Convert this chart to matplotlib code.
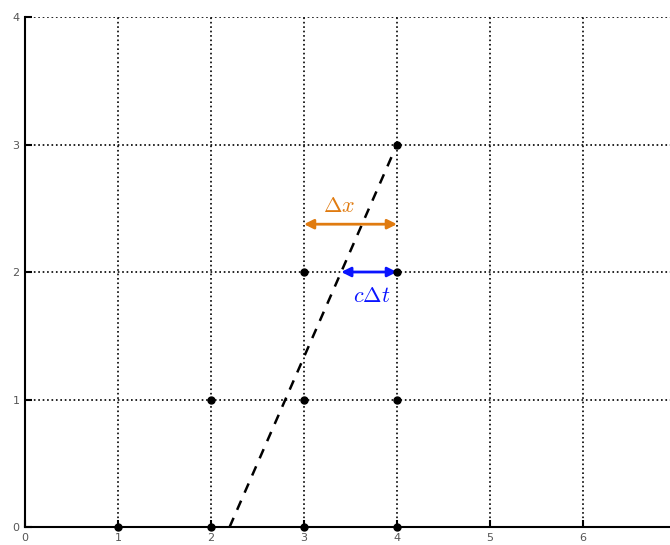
import matplotlib.pyplot as plt

plt.rcParams['mathtext.fontset'] = 'cm'

# puntos de la malla
pts_x = [1, 2, 3, 4, 2, 3, 4, 3, 4, 4]
pts_y = [0, 0, 0, 0, 1, 1, 1, 2, 2, 3]

# caracteristica (linea discontinua)
car_x = [2.2, 4]
car_y = [0, 3]

# flechas
dx_x = [3, 4]
dx_y = 2.375
cdt_x = [3.4, 4]
cdt_y = 2

naranja = '#e07b10'
azul = '#0a14ff'

fig = plt.figure(figsize=(6.7, 5.45), dpi=100)
ax = fig.add_axes([0.0373, 0.033, 0.9716, 0.9358])

ax.plot(car_x, car_y, 'k--', lw=1.8, dashes=(4, 3.5))
ax.plot(pts_x, pts_y, 'ko', ms=5, clip_on=False, zorder=5)

ax.annotate('', xy=(dx_x[1], dx_y), xytext=(dx_x[0], dx_y),
            arrowprops=dict(arrowstyle='<|-|>', color=naranja, lw=2, mutation_scale=14,
                            shrinkA=0, shrinkB=0))
ax.text(3.38, 2.52, r'$\Delta x$', color=naranja, fontsize=16, ha='center', va='center')

ax.annotate('', xy=(cdt_x[1], cdt_y), xytext=(cdt_x[0], cdt_y),
            arrowprops=dict(arrowstyle='<|-|>', color=azul, lw=2, mutation_scale=14,
                            shrinkA=0, shrinkB=0))
ax.text(3.73, 1.81, r'$c\Delta t$', color=azul, fontsize=16, ha='center', va='center')

ax.set_xlim(0, 7)
ax.set_ylim(0, 4)
ax.set_xticks(range(0, 8))
ax.set_xticklabels(['0', '1', '2', '3', '4', '5', '6', ''])
ax.set_yticks(range(0, 5))
ax.grid(True, color='k', ls=':', lw=1.2)
ax.spines['top'].set_visible(False)
ax.spines['right'].set_visible(False)
ax.spines['left'].set_linewidth(1.5)
ax.spines['bottom'].set_linewidth(1.5)
ax.tick_params(direction='in', length=5, width=1.5, labelsize=8, colors='k', pad=4)
for lab in ax.get_xticklabels() + ax.get_yticklabels():
    lab.set_color('#555555')

fig.savefig('out.png', dpi=100)
